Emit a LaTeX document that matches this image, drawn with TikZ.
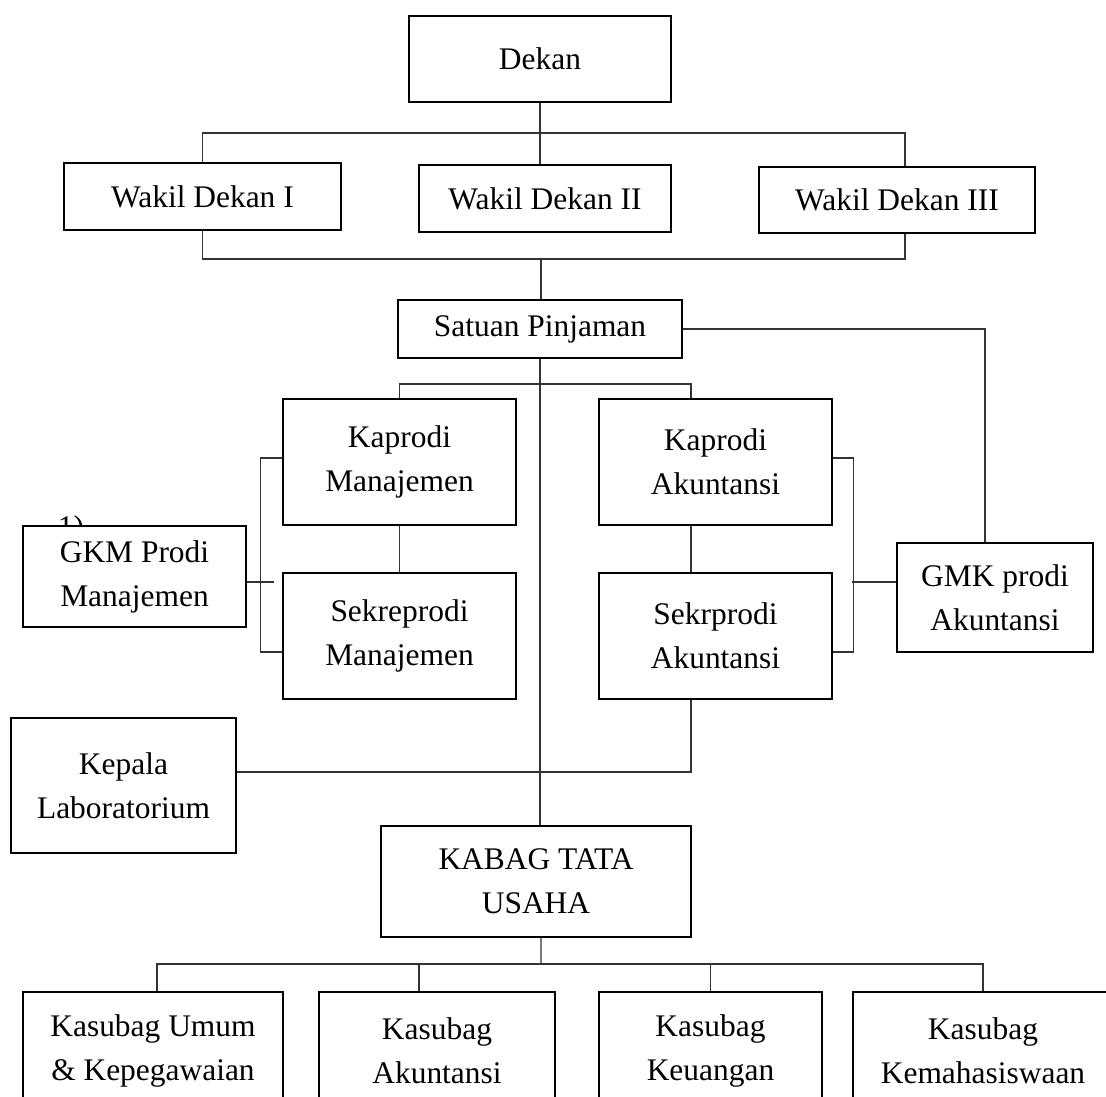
\documentclass[tikz,border=0pt]{standalone}
\usepackage{fontspec}
\setmainfont{Liberation Serif}
\begin{document}
\begin{tikzpicture}[x=0.02cm, y=-0.02cm,
                        kotak/.style 2 args={draw, line width=1.1pt, fill=white, align=center,
                                             inner sep=0pt, minimum width=#1, minimum height=#2,
                                             font=\fontsize{17.9}{25}\selectfont},
                        garis/.style={line width=0.6pt, black!80},
                        ]
                        \useasboundingbox (0,0) rectangle (1106,1097);
                        \clip (0,0) rectangle (1106,1097);
                        %Nomor di belakang kotak GKM
                        \node (nomor) at (71,538) [anchor=base, font=\fontsize{17.9}{25}\selectfont] {1)};
                        %Pimpinan
                        \node (dekan) at (540,59) [kotak={5.24cm}{1.72cm}] {Dekan};
                        \node (wd1) at (202.5,196.5) [kotak={5.54cm}{1.34cm}] {Wakil Dekan I};
                        \node (wd2) at (545,198.5) [kotak={5.04cm}{1.34cm}] {Wakil Dekan II};
                        \node (wd3) at (897,200) [kotak={5.52cm}{1.32cm}] {Wakil Dekan III};
                        \node (satuan) at (540,329) [kotak={5.68cm}{1.16cm}] {Satuan Pinjaman};
                        %Program studi
                        \node (kpm) at (399.5,462) [kotak={4.66cm}{2.52cm}] {Kaprodi\\Manajemen};
                        \node (spm) at (399.5,636) [kotak={4.66cm}{2.52cm}] {Sekreprodi\\Manajemen};
                        \node (kpa) at (715.5,462) [kotak={4.66cm}{2.52cm}] {Kaprodi\\Akuntansi};
                        \node (spa) at (715.5,636) [kotak={4.66cm}{2.52cm}] {Sekrprodi\\Akuntansi};
                        \node (gkm) at (134.5,576.5) [kotak={4.46cm}{2.02cm}] {GKM Prodi\\Manajemen};
                        \node (gmk) at (995,597.5) [kotak={3.92cm}{2.18cm}] {GMK prodi\\Akuntansi};
                        \node (lab) at (123.5,785.5) [kotak={4.5cm}{2.7cm}] {Kepala\\Laboratorium};
                        %Tata usaha
                        \node (kabag) at (536,881.5) [kotak={6.2cm}{2.22cm}] {KABAG TATA\\USAHA};
                        \node (ksb1) at (153,1051) [kotak={5.2cm}{2.36cm}] {Kasubag Umum\\\& Kepegawaian};
                        \node (ksb2) at (437,1051) [kotak={4.72cm}{2.36cm}] {Kasubag\\Akuntansi};
                        \node (ksb3) at (710.5,1051) [kotak={4.46cm}{2.36cm}] {Kasubag\\Keuangan};
                        \node (ksb4) at (983,1051) [kotak={5.2cm}{2.36cm}] {Kasubag\\Kemahasiswaan};
                        %Titik cabang
                        \coordinate (tb) at (541,133);
                        \coordinate (bb) at (541,259);
                        \coordinate (pb) at (541,384);
                        \coordinate (kb) at (541,964);
                        %Garis pimpinan
                        \draw [garis] (dekan.south) -- (dekan.south |- wd2.north);
                        \draw [garis] (wd1.north) |- (tb) -| ([xshift=0.16cm]wd3.north);
                        \draw [garis] (wd1.south) |- (bb) -| ([xshift=0.16cm]wd3.south);
                        \draw [garis] (bb) -- (bb |- satuan.north);
                        \draw [garis] (satuan.east) -| ([xshift=-0.2cm]gmk.north);
                        \draw [garis] (satuan.south) -- (satuan.south |- kabag.north);
                        %Garis program studi
                        \draw [garis] (kpm.north) |- (pb) -| ([xshift=-0.49cm]kpa.north);
                        \draw [garis] (kpm.south) -- (spm.north);
                        \draw [garis] ([xshift=-0.49cm]kpa.south) -- ([xshift=-0.49cm]spa.north);
                        \draw [garis] ([yshift=0.08cm]kpm.west) -- ++(-22,0) |- ([yshift=-0.32cm]spm.west);
                        \draw [garis] ([yshift=-0.11cm]gkm.east) -- ++(27,0);
                        \draw [garis] ([yshift=0.08cm]kpa.east) -- ++(21,0) |- ([yshift=-0.32cm]spa.east);
                        \draw [garis] ([yshift=0.31cm]gmk.west) -- ++(-44,0);
                        \draw [garis] ([xshift=-0.49cm]spa.south) |- ([yshift=0.27cm]lab.east);
                        %Garis tata usaha
                        \draw [garis] ([xshift=0.1cm]kabag.south) -- (kb);
                        \draw [garis] ([xshift=0.08cm]ksb1.north) |- (kb) -| (ksb4.north);
                        \draw [garis] ([xshift=-0.36cm]ksb2.north) -- ++(0,-28);
                        \draw [garis] (ksb3.north) -- (ksb3.north |- kb);
                \end{tikzpicture}
\end{document}
